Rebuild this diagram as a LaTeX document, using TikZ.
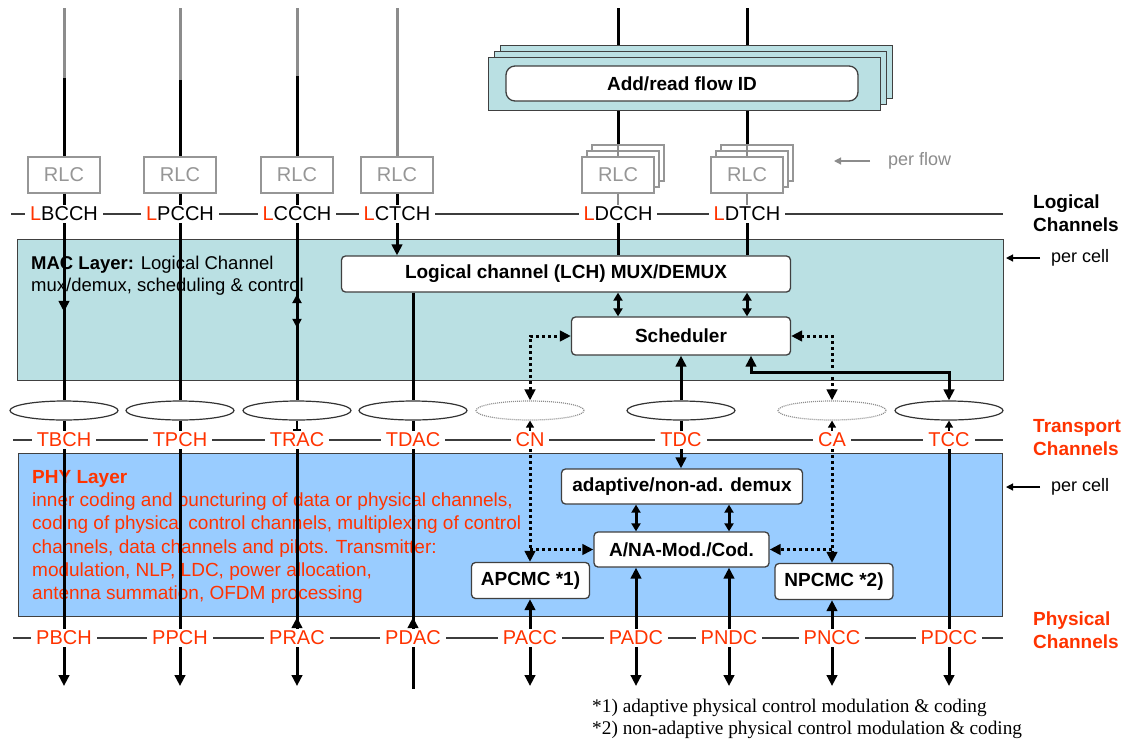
\documentclass[tikz,border=0pt]{standalone}
\usepackage{fontspec}
\setmainfont{Liberation Sans}
\newfontfamily\fnserif{Liberation Serif}
\usetikzlibrary{arrows.meta,shapes.geometric,decorations.markings,calc}
\definecolor{lred}{RGB}{255,51,0}
\definecolor{macfill}{RGB}{186,224,227}
\definecolor{phyfill}{RGB}{153,204,255}
\definecolor{lgray}{RGB}{140,140,140}
\definecolor{rlcgray}{RGB}{150,150,150}
\definecolor{busgray}{RGB}{60,60,60}
\begin{document}
\begin{tikzpicture}[x=1pt,y=-1pt,
  >={Triangle[length=11pt,width=10.5pt]},
  vline/.style={line width=3pt, black},
  gline/.style={line width=3pt, lgray},
  bus/.style={line width=1.5pt, busgray},
  dbl/.style={line width=3pt, {Triangle[length=8pt,width=9pt]}-{Triangle[length=8pt,width=9pt]}},
  lab/.style={font=\fontsize{20}{24}\selectfont, fill=white, inner xsep=5pt, inner ysep=2pt},
  tlab/.style={lab, text=lred},
  rlc/.style={draw=rlcgray, fill=white, text=rlcgray, line width=1.2pt, minimum width=72pt, minimum height=36pt, font=\fontsize{20}{24}\selectfont, inner sep=0pt},
  rlcb/.style={draw=rlcgray, fill=white, line width=1.2pt, minimum width=72pt, minimum height=36pt, inner sep=0pt},
  blk/.style={draw=black!75, fill=white, rounded corners=4pt, line width=1.3pt, font=\bfseries\fontsize{19}{23}\selectfont, inner sep=0pt},
  layer/.style={draw=black!75, line width=1.2pt, inner sep=0pt, anchor=north west},
  ell/.style={ellipse, draw=black!80, line width=1.2pt, minimum width=108pt, minimum height=19pt, inner sep=0pt},
  elld/.style={ellipse, draw=lgray, line width=1.2pt, dash pattern=on 1pt off 1pt, minimum width=108pt, minimum height=19pt, inner sep=0pt},
  dots/.style={line width=3pt, dash pattern=on 3pt off 3pt},
  small/.style={line width=1.3pt, -{Triangle[length=7pt,width=8pt]}},
  grp/.style={font=\bfseries\fontsize{19}{23}\selectfont, align=left, anchor=west, inner sep=0pt},
  note/.style={font=\fontsize{18}{22}\selectfont, anchor=west, inner sep=0pt},
  fnote/.style={anchor=west, inner sep=0pt, font=\fnserif\fontsize{19.3}{23}\selectfont},
  midarrow/.style={postaction={decorate}, decoration={markings, mark=at position #1 with {\arrow{>}}}},
]
\useasboundingbox (0,0) rectangle (1127,740);
\fill[white] (0,0) rectangle (1127,740);

% ---- layers ----
\node[layer, fill=macfill, minimum width=986pt, minimum height=141pt] (MAC) at (17,239) {};
\node[layer, fill=phyfill, minimum width=984pt, minimum height=163pt] (PHY) at (18,453) {};

\node[anchor=north west, inner sep=0pt, align=left, font=\fontsize{18.5}{22}\selectfont] (MACt) at (31,256)
  {\textbf{MAC Layer:} Logical Channel\\mux/demux, scheduling \& control};
\node[anchor=north west, inner sep=0pt, align=left, text=lred, font=\fontsize{19}{23.3}\selectfont] (PHYt) at (32,470)
  {\textbf{PHY Layer}\\inner coding and puncturing of data or physical channels,\\coding of physical control channels, multiplexing of control\\channels, data channels and pilots. Transmitter:\\modulation, NLP, LDC, power allocation,\\antenna summation, OFDM processing};

% ---- add/read flow ID stack ----
\node[layer, fill=macfill, minimum width=392pt, minimum height=53pt] (ARb) at (500,45) {};
\node[layer, fill=macfill, minimum width=392pt, minimum height=53pt] (ARm) at (494,51) {};
\node[layer, fill=macfill, minimum width=392pt, minimum height=53pt] (ARf) at (488,57) {};
\node[blk, rounded corners=9pt, minimum width=352pt, minimum height=35pt] (AR) at (682,83.5) {Add/read flow ID};

% ---- buses ----
\coordinate (LgL) at (11,214); \coordinate (LgR) at (1003,214);
\coordinate (TrL) at (13,440); \coordinate (TrR) at (1003,440);
\coordinate (PhL) at (13,638); \coordinate (PhR) at (1003,638);
\draw[bus] (LgL) -- (LgR);
\draw[bus] (TrL) -- (TrR);
\draw[bus] (PhL) -- (PhR);

% ---- logical labels ----
\node[lab] (LBCCH) at (64,214) {\textcolor{lred}{L}BCCH};
\node[lab] (LPCCH) at (180,214) {\textcolor{lred}{L}PCCH};
\node[lab] (LCCCH) at (297,214) {\textcolor{lred}{L}CCCH};
\node[lab] (LCTCH) at (397,214) {\textcolor{lred}{L}CTCH};
\node[lab] (LDCCH) at (618,214) {\textcolor{lred}{L}DCCH};
\node[lab] (LDTCH) at (747,214) {\textcolor{lred}{L}DTCH};

% ---- transport labels ----
\node[tlab] (TBCH) at (64,440) {TBCH};
\node[tlab] (TPCH) at (180,440) {TPCH};
\node[tlab] (TRAC) at (297,440) {TRAC};
\node[tlab] (TDAC) at (413,440) {TDAC};
\node[tlab] (CN) at (530,440) {CN};
\node[tlab] (TDC) at (681,440) {TDC};
\node[tlab] (CA) at (832,440) {CA};
\node[tlab] (TCC) at (949,440) {TCC};

% ---- physical labels ----
\node[tlab] (PBCH) at (64,638) {PBCH};
\node[tlab] (PPCH) at (180,638) {PPCH};
\node[tlab] (PRAC) at (297,638) {PRAC};
\node[tlab] (PDAC) at (413,638) {PDAC};
\node[tlab] (PACC) at (530,638) {PACC};
\node[tlab] (PADC) at (636,638) {PADC};
\node[tlab] (PNDC) at (729,638) {PNDC};
\node[tlab] (PNCC) at (832,638) {PNCC};
\node[tlab] (PDCC) at (949,638) {PDCC};

% ---- group labels ----
\node[grp] (LogG) at (1033,213.5) {Logical\\Channels};
\node[grp, text=lred] (TrG) at (1033,437.5) {Transport\\Channels};
\node[grp, text=lred] (PhG) at (1033,630) {Physical\\Channels};

% ---- ellipses ----
\node[ell] (E1) at (64,410.5) {};
\node[ell] (E2) at (180,410.5) {};
\node[ell] (E3) at (297,410.5) {};
\node[ell] (E4) at (413,410.5) {};
\node[elld] (E5) at (530,410.5) {};
\node[ell] (E6) at (681,410.5) {};
\node[elld] (E7) at (832,410.5) {};
\node[ell] (E8) at (949,410.5) {};

% ---- function boxes ----
\node[blk, minimum width=449pt, minimum height=36pt] (LCH) at (566,274) {Logical channel (LCH) MUX/DEMUX};
\node[blk, minimum width=219pt, minimum height=38pt] (Sch) at (681,336) {Scheduler};
\node[blk, minimum width=241pt, minimum height=35pt] (Dmx) at (682,486.5) {adaptive/non-ad. demux};
\node[blk, minimum width=175pt, minimum height=35pt] (ANA) at (681.5,549.5) {A/NA-Mod./Cod.};
\node[blk, minimum width=118pt, minimum height=36pt] (APC) at (530.5,580.5) {APCMC *1)};
\node[blk, minimum width=118pt, minimum height=36pt] (NPC) at (834,581.5) {NPCMC *2)};

% ---- RLC boxes ----
\node[rlc] (R1) at (64,175) {RLC};
\node[rlc] (R2) at (180,175) {RLC};
\node[rlc] (R3) at (297,175) {RLC};
\node[rlc] (R4) at (397,175) {RLC};
\node[rlcb] (R5b) at (628,163) {};
\node[rlcb] (R5m) at (623,169) {};
\node[rlcb] (R6b) at (757,163) {};
\node[rlcb] (R6m) at (752,169) {};
\coordinate (T5) at (618,8);
\coordinate (T6) at (747,8);
\coordinate (F5) at (618,157);
\coordinate (F6) at (747,157);
\draw[line width=2.5pt, lgray] (R5b.north -| T5) -- (F5);
\draw[line width=2.5pt, lgray] (R6b.north -| T6) -- (F6);
\node[rlc] (R5) at (618,175) {RLC};
\node[rlc] (R6) at (747,175) {RLC};

% ---- top feeders ----
\coordinate (T1) at (64,8);  \coordinate (G1) at (64,78);
\coordinate (T2) at (180,8); \coordinate (G2) at (180,80);
\coordinate (T3) at (297,8); \coordinate (G3) at (297,76);
\coordinate (T4) at (397,8);
\draw[gline] (T1) -- (G1); \draw[vline] (G1) -- (R1.north);
\draw[gline] (T2) -- (G2); \draw[vline] (G2) -- (R2.north);
\draw[gline] (T3) -- (G3); \draw[vline] (G3) -- (R3.north);
\draw[gline] (T4) -- (R4.north);
\draw[vline] (T5) -- (T5 |- ARb.north);
\draw[vline] (T6) -- (T6 |- ARb.north);
\draw[vline] (ARf.south -| T5) -- (R5b.north -| T5);
\draw[vline] (ARf.south -| T6) -- (R6b.north -| T6);
\draw[vline] (R1.south) -- (LBCCH.north);
\draw[vline] (R2.south) -- (LPCCH.north);
\draw[vline] (R3.south) -- (LCCCH.north);
\draw[vline] (R4.south) -- (LCTCH.north);
\draw[line width=2.5pt, lgray] (R5.south) -- (LDCCH.north);
\draw[line width=2.5pt, lgray] (R6.south) -- (LDTCH.north);

% per flow / per cell notes
\coordinate (pfT) at (870,161); \coordinate (pfH) at (834,161);
\node[note, text=lgray] (pf) at (888,161) {per flow};
\draw[lgray, line width=1.2pt, -{Triangle[length=7pt,width=7pt]}] (pfT) -- (pfH);
\coordinate (pc1T) at (1040,258); \coordinate (pc1H) at (1006,258);
\node[note] (pc1) at (1051,258) {per cell};
\draw[line width=1.2pt, -{Triangle[length=7pt,width=7pt]}] (pc1T) -- (pc1H);
\coordinate (pc2T) at (1040,487); \coordinate (pc2H) at (1006,487);
\node[note] (pc2) at (1051,487) {per cell};
\draw[line width=1.2pt, -{Triangle[length=7pt,width=7pt]}] (pc2T) -- (pc2H);

% ---- MAC layer connections ----
\draw[vline, midarrow=0.5] (LBCCH.south) -- (E1.north);
\draw[vline] (LPCCH.south) -- (E2.north);
\draw[vline, postaction={decorate}, decoration={markings,
   mark=at position 0.40 with {\arrowreversed{Triangle[length=9pt,width=9pt]}},
   mark=at position 0.59 with {\arrow{Triangle[length=9pt,width=9pt]}}}] (LCCCH.south) -- (E3.north);
\draw[vline, ->] (LCTCH.south) -- (LCTCH.south |- LCH.north);
\draw[vline] (LCH.south -| E4) -- (E4.north);
\draw[vline] (LDCCH.south) -- (LDCCH.south |- LCH.north);
\draw[vline] (LDTCH.south) -- (LDTCH.south |- LCH.north);
\draw[dbl] (LCH.south -| LDCCH) -- (Sch.north -| LDCCH);
\draw[dbl] (LCH.south -| LDTCH) -- (Sch.north -| LDTCH);
\draw[dots, <->] (E5.north) |- (Sch.west);
\draw[dots, <->] (Sch.east) -| (E7.north);
\draw[vline, ->] (E6.north) -- (E6.north |- Sch.south);
\coordinate (tccb) at (751,372);
\draw[vline, <->] (Sch.south -| tccb) -- (tccb) -| (E8.north);

% ---- stubs ellipse / transport labels ----
\draw[vline] (E1.south) -- (TBCH.north);
\draw[vline] (E2.south) -- (TPCH.north);
\draw[line width=2.5pt, -{Bar[width=8pt,line width=1.5pt]}] (E3.south) -- (TRAC.north);
\draw[vline] (E4.south) -- (TDAC.north);
\draw[small] (CN.north) -- (E5.south);
\draw[vline] (E6.south) -- (TDC.north);
\draw[small] (CA.north) -- (E7.south);
\draw[small] (TCC.north) -- (E8.south);

% ---- PHY layer connections ----
\draw[vline] (TBCH.south) -- (PBCH.north);
\draw[vline] (TPCH.south) -- (PPCH.north);
\draw[vline] (TRAC.south) -- (PRAC.north);
\draw[vline, ->] (PRAC.north) -- (PRAC.north |- PHY.south);
\draw[vline] (TDAC.south) -- (PDAC.north);
\draw[vline, ->] (PDAC.north) -- (PDAC.north |- PHY.south);
\draw[dots, ->] (CN.south) -- (CN.south |- APC.north);
\draw[dots, ->] (CN.south |- ANA.west) -- (ANA.west);
\draw[vline, ->] (PACC.north) -- (PACC.north |- APC.south);
\draw[vline, ->] (TDC.south) -- (TDC.south |- Dmx.north);
\draw[dbl] (Dmx.south -| PADC) -- (ANA.north -| PADC);
\draw[dbl] (Dmx.south -| PNDC) -- (ANA.north -| PNDC);
\draw[vline, ->] (PADC.north) -- (PADC.north |- ANA.south);
\draw[vline, ->] (PNDC.north) -- (PNDC.north |- ANA.south);
\draw[dots, ->] (CA.south) -- (CA.south |- NPC.north);
\draw[dots, ->] (CA.south |- ANA.east) -- (ANA.east);
\draw[vline, ->] (PNCC.north) -- (PNCC.north |- NPC.south);
\draw[vline] (TCC.south) -- (PDCC.north);

% ---- bottom outputs ----
\coordinate (bot) at (0,686);
\coordinate (bot2) at (0,689);
\foreach \n in {PBCH,PPCH,PRAC,PACC,PADC,PNDC,PNCC,PDCC}
  \draw[vline, ->] (\n.south) -- (\n.south |- bot);
\draw[vline] (PDAC.south) -- (PDAC.south |- bot2);

% ---- footnotes ----
\node[fnote] (fn1) at (592,708) {*1) adaptive physical control modulation \& coding};
\node[fnote] (fn2) at (592,730) {*2) non-adaptive physical control modulation \& coding};
\end{tikzpicture}
\end{document}
